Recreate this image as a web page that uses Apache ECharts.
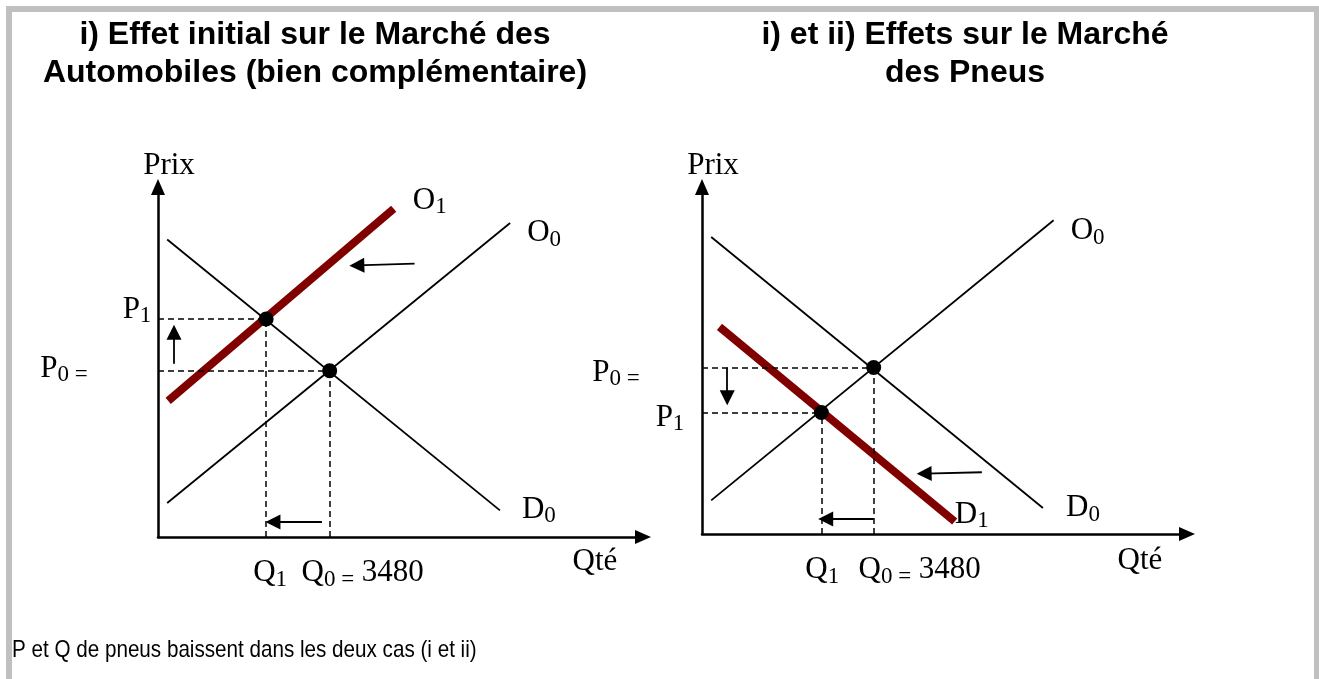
<!DOCTYPE html>
<html>
<head>
<meta charset="utf-8">
<title>Automobiles et Pneus</title>
<script src="https://cdn.jsdelivr.net/npm/echarts@6/dist/echarts.min.js"></script>
<style>
  html, body { margin: 0; padding: 0; background: #fff; }
  #chart { width: 1319px; height: 679px; }
</style>
</head>
<body>
<div id="chart"></div>
<script>
// unités arbitraires : 0..100 sur chaque axe
// i) marché des automobiles
const autoD0 = [[1.9, 85.0], [70.5, 7.6]];
const autoO0 = [[1.9, 9.7], [72.6, 89.7]];
const autoO1 = [[2.1, 38.9], [48.6, 93.8]];
const autoE0 = [35.4, 47.5];
const autoE1 = [22.3, 62.3];
const autoArrows = [
  [[3.3, 49.5], [3.3, 58.5]],
  [[52.9, 78.1], [41.0, 77.6]],
  [[33.8, 4.3], [23.7, 4.3]]
];

// i) et ii) marché des pneus
const pneuD0 = [[1.9, 85.6], [70.3, 7.5]];
const pneuO0 = [[1.9, 9.7], [72.5, 90.4]];
const pneuD1 = [[3.6, 59.7], [52.1, 3.6]];
const pneuE0 = [35.4, 48.0];
const pneuE1 = [24.6, 35.0];
const pneuArrows = [
  [[5.2, 48.0], [5.2, 39.3]],
  [[57.7, 17.8], [45.8, 17.4]],
  [[35.4, 4.3], [25.5, 4.3]]
];

const q0Value = '3480';
const axisNames = ['Prix', 'Qté'];

const black = '#000';
const maroon = '#800000';
const serif = 'Liberation Serif';
const rich = {
  b: { fontFamily: serif, fontSize: 31, lineHeight: 36, color: black, textBorderWidth: 0 },
  s: { fontFamily: serif, fontSize: 23, lineHeight: 23, verticalAlign: 'bottom', color: black, textBorderWidth: 0 }
};

function curve(i, data, color, width) {
  return {
    type: 'line', xAxisIndex: i, yAxisIndex: i, data: data, symbol: 'none', silent: true,
    z: width > 3 ? 3 : 2, lineStyle: { color: color, width: width }
  };
}

function segs(i, list, dashed) {
  return {
    type: 'lines', coordinateSystem: 'cartesian2d', xAxisIndex: i, yAxisIndex: i, silent: true, z: 4,
    symbol: dashed ? ['none', 'none'] : ['none', 'triangle'], symbolSize: 15,
    itemStyle: { color: black },
    lineStyle: { color: black, width: dashed ? 1.5 : 1.8, type: dashed ? [6, 4] : 'solid', opacity: 1 },
    data: list.map(c => ({ coords: c }))
  };
}

function dots(i, pts) {
  return {
    type: 'scatter', xAxisIndex: i, yAxisIndex: i, data: pts, symbolSize: 15, silent: true, z: 6,
    itemStyle: { color: black, opacity: 1 }
  };
}

function texts(i, items) {
  return {
    type: 'scatter', xAxisIndex: i, yAxisIndex: i, symbolSize: 0, silent: true, clip: false, z: 7,
    itemStyle: { opacity: 1 },
    label: { show: true, position: 'inside', color: black, textBorderWidth: 0, rich: rich },
    data: items.map(t => ({ value: t[0], label: { formatter: t[1], offset: t[2] } }))
  };
}

function dashes(e0, e1) {
  return [
    [[0, e1[1]], e1], [[0, e0[1]], e0],
    [[e1[0], 0], e1], [[e0[0], 0], e0]
  ];
}

function axes(i) {
  return {
    gridIndex: i, type: 'value', min: 0, max: 100,
    axisLine: { show: true, onZero: false, symbol: ['none', 'triangle'], symbolSize: [14, 16],
      lineStyle: { color: black, width: 2.5 } },
    axisTick: { show: false }, axisLabel: { show: false }, splitLine: { show: false }
  };
}

const chart = echarts.init(document.getElementById('chart'));
chart.setOption({
  animation: false,
  backgroundColor: '#fff',
  grid: [
    { left: 158, top: 187, width: 485, height: 350 },
    { left: 702, top: 187, width: 485, height: 347 }
  ],
  xAxis: [axes(0), axes(1)],
  yAxis: [axes(0), axes(1)],
  graphic: [
    { type: 'rect', silent: true, shape: { x: 9, y: 9, width: 1308, height: 720 },
      style: { fill: 'none', stroke: '#c0c0c0', lineWidth: 6 } },
    { type: 'text', x: 315, y: 16, silent: true,
      style: { text: 'i) Effet initial sur le Marché des\nAutomobiles (bien complémentaire)',
        font: 'bold 32px "Liberation Sans"', fill: black, align: 'center', lineHeight: 38 } },
    { type: 'text', x: 965, y: 16, silent: true,
      style: { text: 'i) et ii) Effets sur le Marché\ndes Pneus',
        font: 'bold 32px "Liberation Sans"', fill: black, align: 'center', lineHeight: 38 } },
    { type: 'text', x: 12, y: 650, scaleX: 0.86, silent: true,
      style: { text: 'P et Q de pneus baissent dans les deux cas (i et ii)',
        font: '24px "Liberation Sans"', fill: black, verticalAlign: 'middle' } }
  ],
  series: [
    curve(0, autoD0, black, 1.8),
    curve(0, autoO0, black, 1.8),
    curve(0, autoO1, maroon, 8),
    segs(0, dashes(autoE0, autoE1), true),
    segs(0, autoArrows, false),
    dots(0, [autoE0, autoE1]),
    texts(0, [
      [[0, 100], '{b|' + axisNames[0] + '}', [11, -21]],
      [[100, 0], '{b|' + axisNames[1] + '}', [-48, 25]],
      [autoO1[1], '{b|O}{s|1}', [36, -8]],
      [autoO0[1], '{b|O}{s|0}', [34, 10]],
      [autoD0[1], '{b|D}{s|0}', [39, -1]],
      [[0, autoE1[1]], '{b|P}{s|1}', [-21, -9]],
      [[0, autoE0[1]], '{b|P}{s|0 =}', [-94, -2]],
      [[autoE1[0], 0], '{b|Q}{s|1}', [4, 36]],
      [[autoE0[0], 0], '{b|Q}{s|0 =}{b| ' + q0Value + '}', [33, 36]]
    ]),

    curve(1, pneuD0, black, 1.8),
    curve(1, pneuO0, black, 1.8),
    curve(1, pneuD1, maroon, 8),
    segs(1, dashes(pneuE0, pneuE1), true),
    segs(1, pneuArrows, false),
    dots(1, [pneuE0, pneuE1]),
    texts(1, [
      [[0, 100], '{b|' + axisNames[0] + '}', [11, -21]],
      [[100, 0], '{b|' + axisNames[1] + '}', [-47, 27]],
      [pneuO0[1], '{b|O}{s|0}', [34, 11]],
      [pneuD0[1], '{b|D}{s|0}', [40, 0]],
      [pneuD1[1], '{b|D}{s|1}', [17, -7]],
      [[0, pneuE0[1]], '{b|P}{s|0 =}', [-86, 5]],
      [[0, pneuE1[1]], '{b|P}{s|1}', [-32, 5]],
      [[pneuE1[0], 0], '{b|Q}{s|1}', [1, 36]],
      [[pneuE0[0], 0], '{b|Q}{s|0 =}{b| ' + q0Value + '}', [46, 36]]
    ])
  ]
});
</script>
</body>
</html>
